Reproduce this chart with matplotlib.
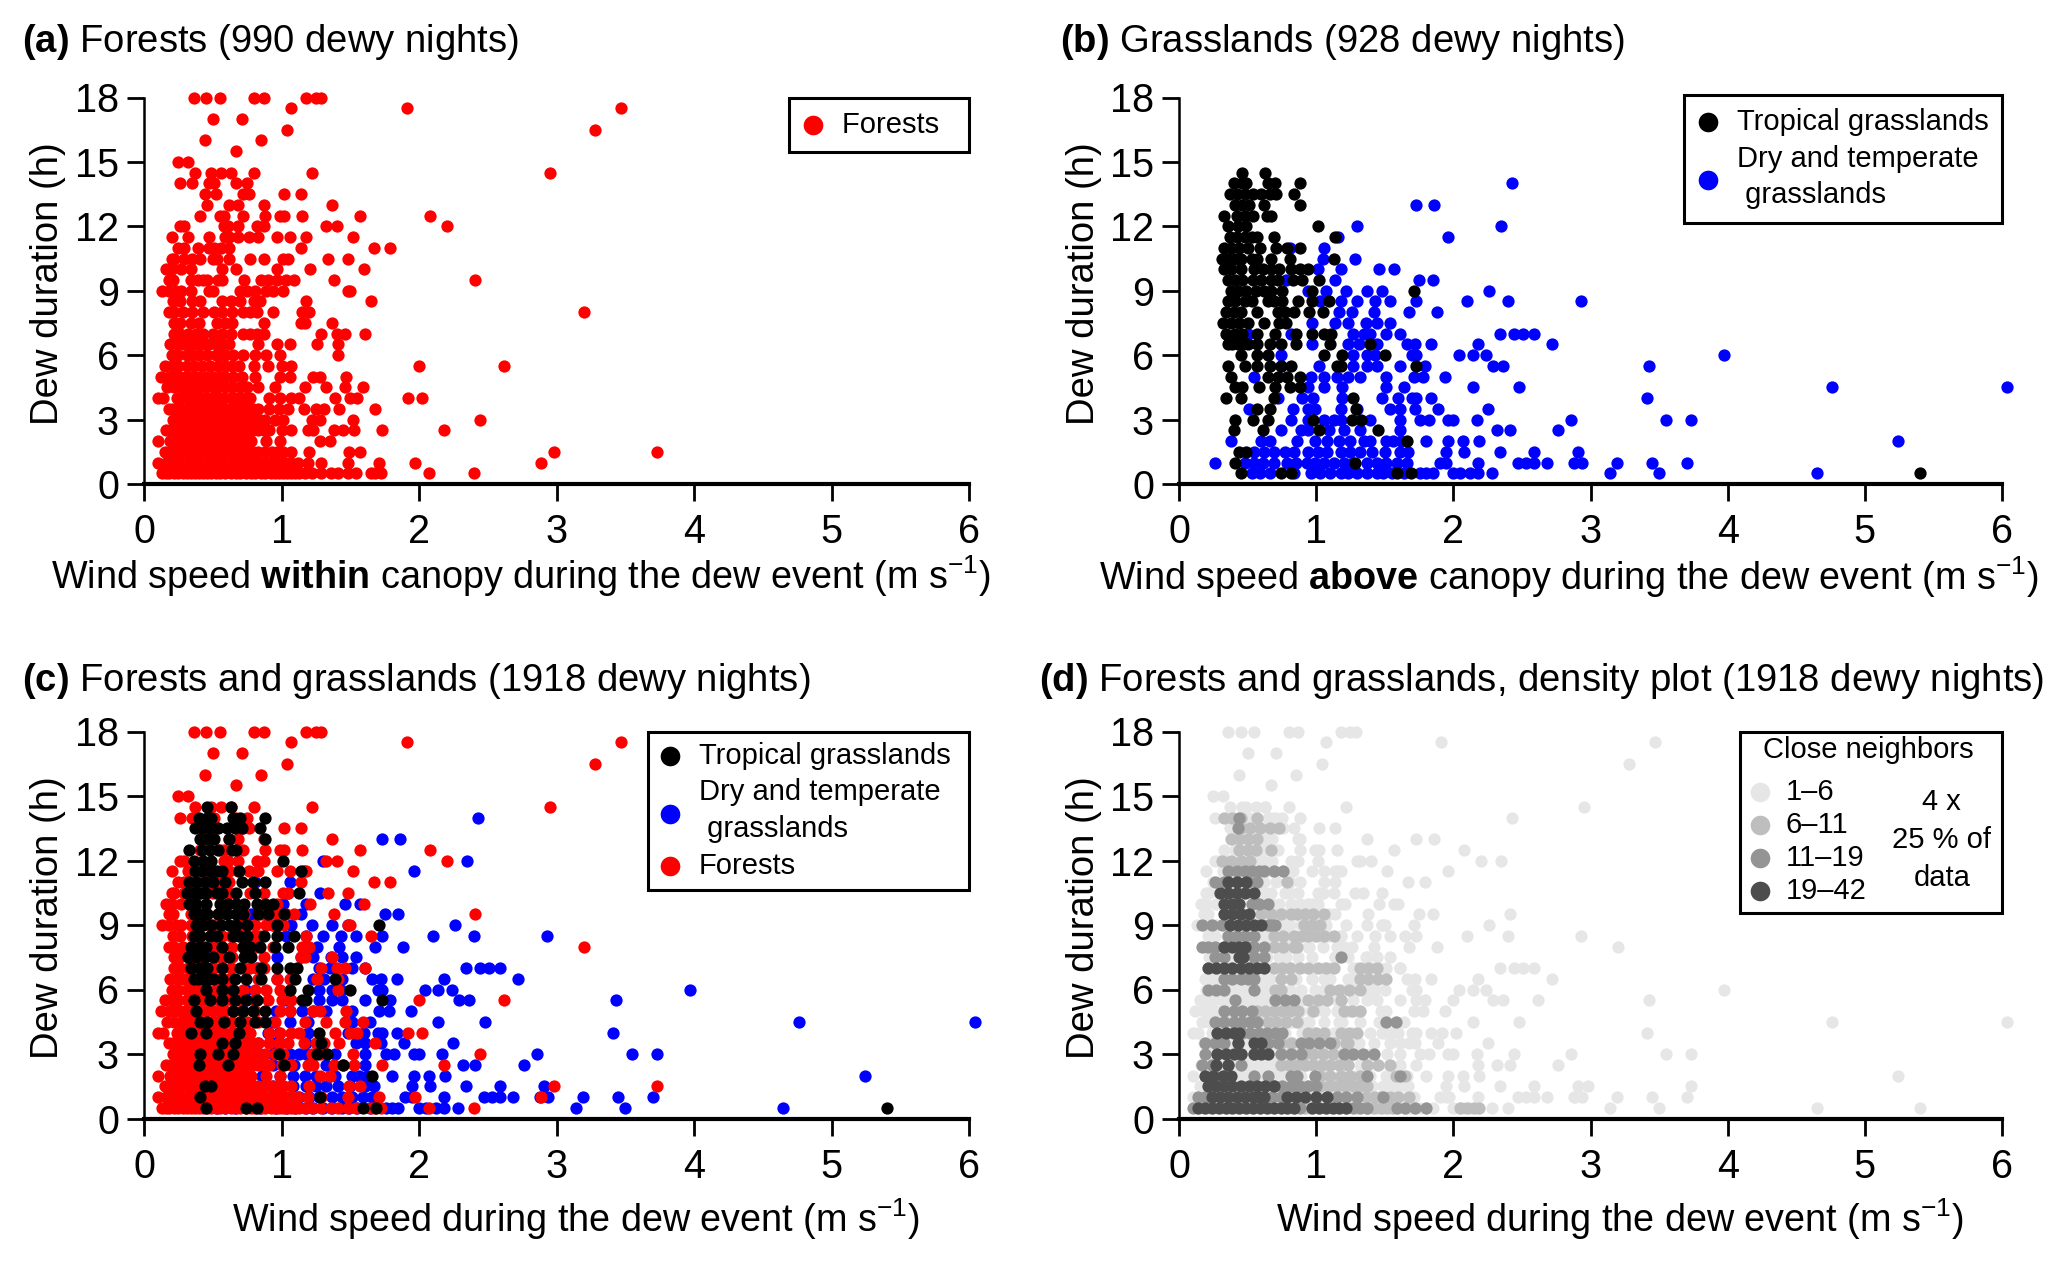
import matplotlib
matplotlib.use('Agg')
import matplotlib.pyplot as plt
from matplotlib.patches import Rectangle

plt.rcParams['font.family'] = ['Liberation Sans', 'DejaVu Sans']
plt.rcParams['mathtext.fontset'] = 'custom'
plt.rcParams['mathtext.rm'] = 'Liberation Sans'
plt.rcParams['mathtext.bf'] = 'Liberation Sans:bold'
plt.rcParams['mathtext.default'] = 'regular'

forest_rows = [
    (0.5, [.13, .18, .22, .28, .34, .40, .46, .52, .59, .67, .74, .81, .88, .95, 1.01, 1.07, 1.13, 1.22, 1.29, 1.36, 1.41, 1.48, 1.54, 1.65, 1.68, 1.72, 2.07, 2.40]),
    (1, [.10, .16, .23, .31, .38, .45, .52, .59, .67, .74, .82, .90, .96, 1.03, 1.12, 1.19, 1.29, 1.48, 1.71, 1.97, 2.89]),
    (1.5, [.15, .23, .31, .38, .45, .52, .59, .67, .75, .83, .93, 1.01, 1.07, 1.20, 1.49, 1.57, 2.98, 3.73]),
    (2, [.10, .19, .26, .33, .40, .48, .55, .62, .70, .78, .89, .99, 1.28, 1.35]),
    (2.5, [.16, .23, .31, .38, .45, .52, .59, .67, .75, .83, .91, 1.0, 1.07, 1.19, 1.23, 1.38, 1.45, 1.53, 1.73, 2.18]),
    (3, [.21, .28, .36, .43, .50, .57, .64, .72, .80, .88, .95, 1.01, 1.22, 1.28, 1.52, 2.44]),
    (3.5, [.18, .24, .31, .38, .45, .52, .59, .67, .75, .83, .91, .98, 1.05, 1.16, 1.25, 1.31, 1.42, 1.68]),
    (4, [.10, .14, .24, .31, .38, .46, .54, .63, .70, .77, .91, .99, 1.07, 1.13, 1.39, 1.50, 1.55, 1.92, 2.02]),
    (4.5, [.17, .22, .27, .30, .33, .36, .40, .45, .50, .54, .59, .64, .70, .75, .83, .95, 1.17, 1.32, 1.46, 1.59]),
    (5, [.12, .18, .22, .26, .30, .33, .36, .40, .45, .50, .55, .59, .65, .71, .81, .99, 1.06, 1.23, 1.28, 1.47]),
    (5.5, [.15, .20, .25, .31, .36, .42, .48, .54, .59, .64, .69, .80, .90, 1.00, 1.07, 2.00, 2.62]),
    (6, [.20, .25, .31, .35, .40, .46, .52, .56, .59, .65, .72, .81, .89, .99, 1.41]),
    (6.5, [.19, .24, .28, .32, .36, .40, .43, .47, .52, .57, .62, .83, .97, 1.06, 1.26, 1.41]),
    (7, [.22, .26, .32, .38, .43, .50, .57, .63, .72, .77, .82, .87, 1.29, 1.40, 1.46, 1.61]),
    (7.5, [.22, .26, .34, .40, .53, .59, .64, .87, 1.14, 1.17, 1.37]),
    (8, [.18, .22, .28, .35, .43, .51, .57, .64, .72, .77, .82, .94, 1.15, 1.20, 3.20]),
    (8.5, [.21, .26, .35, .41, .57, .63, .70, .80, .84, 1.18, 1.65]),
    (9, [.13, .18, .23, .27, .34, .47, .50, .70, .75, .81, .89, .94, 1.01, 1.48, 1.50]),
    (9.5, [.18, .21, .34, .39, .43, .46, .54, .57, .73, .85, .90, .97, 1.03, 1.09, 1.38, 2.41]),
    (10, [.16, .20, .27, .34, .57, .67, .97, 1.21, 1.60]),
    (10.5, [.20, .22, .29, .35, .41, .50, .53, .62, .77, .87, 1.01, 1.05, 1.34, 1.48]),
    (11, [.25, .29, .39, .47, .51, .56, .62, 1.14, 1.67, 1.79]),
    (11.5, [.20, .32, .47, .59, .62, .68, .76, .83, .97, 1.06, 1.18, 1.52]),
    (12, [.26, .29, .58, .61, .68, .82, .87, 1.32, 1.40, 2.20]),
    (12.5, [.41, .55, .58, .72, .88, .99, 1.02, 1.15, 1.57, 2.08]),
    (13, [.46, .62, .68, .87, 1.37]),
    (13.5, [.44, .52, .72, .76, 1.02, 1.14]),
    (14, [.26, .35, .47, .51, .67, .75]),
    (14.5, [.37, .49, .56, .63, .80, 1.22, 2.95]),
    (15, [.25, .32]),
    (15.5, [.67]),
    (16, [.44, .85]),
    (16.5, [1.04, 3.28]),
    (17, [.50, .71]),
    (17.5, [1.07, 1.91, 3.47]),
    (18, [.36, .45, .55, .80, .87, 1.18, 1.25, 1.29]),
]

# the solid lower left part of the forest cloud
forest_dense_rows = [
    (0.5, [.16, .25, .31, .37, .43, .49, .55, .63, .70, .78, .85, .92, .98, 1.04, 1.10, 1.17]),
    (1, [.20, .27, .34, .41, .48, .55, .63, .70, .78, .86, .93, 1.0, 1.07]),
    (1.5, [.19, .27, .34, .41, .48, .55, .63, .71, .79, .88, .97]),
    (2, [.22, .29, .36, .44, .51, .58, .66, .74]),
    (2.5, [.19, .27, .34, .41, .48, .55, .63, .71, .79, .87]),
    (3, [.24, .32, .39, .46, .53, .60, .68, .76, .84]),
    (3.5, [.21, .27, .34, .41, .48, .55, .63, .71, .79]),
    (4, [.27, .34, .42, .50, .58, .66, .74]),
]

tropical_rows = [
    (0.5, [.45, .74, .82, 1.59, 1.69, 5.40]),
    (1, [.41, 1.28]),
    (1.5, [.44, .49]),
    (2, [1.66]),
    (2.5, [.40, .61, 1.02, 1.45]),
    (3, [.41, .54, .65, .98, 1.26, 1.33]),
    (3.5, [.57, .66, 1.29]),
    (4, [.34, .45, .69, 1.27]),
    (4.5, [.41, .46, .58, .70, .81, .88]),
    (5, [.38, .65, .72, .79, .88]),
    (5.5, [.36, .48, .57, .66, .74, .82, 1.15, 1.18, 1.73]),
    (6, [.45, .57, .65, 1.06, 1.19, 1.50]),
    (6.5, [.36, .39, .43, .47, .50, .57, .66, .74, .85, 1.10, 1.39]),
    (7, [.34, .41, .46, .57, .70, .85, .97, 1.06, 1.11]),
    (7.5, [.32, .38, .44, .50, .62, .73, .78]),
    (8, [.34, .40, .45, .57, .72, .77, .84, .95, 1.05]),
    (8.5, [.36, .41, .48, .53, .65, .69, .75, .87, .97, 1.09]),
    (9, [.38, .43, .49, .56, .62, .67, .75, .97, 1.71]),
    (9.5, [.36, .41, .46, .54, .60, .67, .72, .83, .90, 1.02]),
    (10, [.33, .38, .45, .55, .61, .67, .73, .82, .88, .94]),
    (10.5, [.31, .36, .41, .45, .53, .57, .67, .81, 1.13]),
    (11, [.33, .38, .44, .50, .59, .71, .79, .88]),
    (11.5, [.37, .42, .48, .53, .57, .69, 1.14]),
    (12, [.36, .43, .49, 1.01]),
    (12.5, [.33, .42, .48, .54, .64, .67]),
    (13, [.41, .46, .51, .62, .88]),
    (13.5, [.37, .42, .48, .54, .60, .66, .71, .84]),
    (14, [.40, .46, .49, .65, .70, .88]),
    (14.5, [.46, .63]),
]

dry_rows = [
    (0.5, [.53, .59, .66, .84, .96, 1.03, 1.10, 1.18, 1.23, 1.30, 1.37, 1.44, 1.49, 1.55, 1.64, 1.76, 1.80, 1.85, 2.00, 2.05, 2.12, 2.18, 2.28, 3.14, 3.50, 4.65]),
    (1, [.26, .48, .55, .61, .69, .79, .85, .93, .99, 1.06, 1.13, 1.20, 1.27, 1.37, 1.44, 1.51, 1.59, 1.66, 1.90, 1.95, 2.18, 2.47, 2.53, 2.59, 2.68, 2.88, 2.94, 3.19, 3.45, 3.70]),
    (1.5, [.55, .62, .69, .77, .84, .94, 1.01, 1.08, 1.18, 1.25, 1.32, 1.41, 1.50, 1.61, 1.67, 1.95, 2.08, 2.34, 2.59, 2.91]),
    (2, [.38, .60, .66, .86, .99, 1.08, 1.17, 1.25, 1.35, 1.39, 1.51, 1.56, 1.62, 1.80, 1.96, 2.07, 2.19, 5.24]),
    (2.5, [.74, .89, .94, 1.09, 1.20, 1.32, 1.61, 2.32, 2.41, 2.76]),
    (3, [.82, .94, 1.06, 1.13, 1.18, 1.39, 1.61, 1.76, 1.82, 1.96, 2.0, 2.17, 2.86, 3.55, 3.73]),
    (3.5, [.51, .83, .94, .99, 1.18, 1.30, 1.54, 1.61, 1.72, 1.89, 2.25]),
    (4, [.72, .90, .98, 1.19, 1.48, 1.60, 1.70, 1.73, 1.84, 3.41]),
    (4.5, [.94, 1.06, 1.19, 1.51, 1.64, 2.14, 2.48, 4.76, 6.04]),
    (5, [.55, .96, 1.06, 1.15, 1.23, 1.32, 1.51, 1.71, 1.78, 1.94]),
    (5.5, [.74, 1.02, 1.27, 1.37, 1.44, 1.61, 1.79, 2.29, 2.36, 3.43]),
    (6, [.74, 1.27, 1.37, 1.43, 1.70, 1.73, 2.04, 2.14, 2.24, 3.97]),
    (6.5, [.97, 1.23, 1.31, 1.44, 1.66, 1.72, 1.84, 2.18, 2.72]),
    (7, [.50, .82, 1.27, 1.35, 1.39, 1.51, 1.61, 2.34, 2.44, 2.51, 2.59]),
    (7.5, [.97, 1.14, 1.23, 1.36, 1.44, 1.54]),
    (8, [1.17, 1.26, 1.42, 1.68, 1.88]),
    (8.5, [1.03, 1.18, 1.30, 1.43, 1.54, 1.73, 2.10, 2.40, 2.93]),
    (9, [.94, 1.07, 1.22, 1.37, 1.48, 2.26]),
    (9.5, [.78, 1.14, 1.75, 1.85]),
    (10, [1.01, 1.18, 1.46, 1.57]),
    (10.5, [1.05, 1.28]),
    (11, [.81, 1.06]),
    (11.5, [1.16, 1.96]),
    (12, [1.30, 2.35]),
    (13, [1.73, 1.86]),
    (14, [2.43]),
]

# darker classes of the density panel
neighbors_6_11 = [
    (0.5, [.92, 1.37, 1.42, 1.47, 1.52, 1.56, 2.05, 2.10, 2.15, 2.19]),
    (1, [1.30, 1.36, 1.42, 1.47, 1.54, 1.60, 1.68]),
    (1.5, [1.03, 1.09, 1.15, 1.21, 1.27, 1.32, 1.37]),
    (2, [1.03, 1.10, 1.18, 1.25, 1.32, 1.58, 1.65]),
    (2.5, [.74, .80, .86, .92, .98, 1.04, 1.10, 1.17, 1.23, 1.37, 1.45, 1.54]),
    (3, [.74, .82, .91, .98, 1.05, 1.12]),
    (3.5, [.74, .82, 1.13, 1.22, 1.23]),
    (4, [.94, 1.00, 1.06, 1.18, 1.24, 1.30]),
    (4.5, [.65, .71, .78, .86]),
    (5, [.57, .63, .69, .75, .81, .87, .98, 1.20, 1.26, 1.32]),
    (5.5, [.94, 1.01, 1.08, 1.18]),
    (6, [.70, .74, 1.10, 1.17, 1.24, 1.32]),
    (6.5, [.74, .82, 1.32, 1.38, 1.45, 1.51]),
    (7, [.69, .75, .81, .88, .94, 1.01, 1.07, 1.13, 1.32, 1.38, 1.44]),
    (8, [.69, .76, .84, .86]),
    (8.5, [.69, .76, .84, .90, .94, 1.00, 1.06, 1.13]),
    (9, [.91, .97, 1.03]),
    (9.5, [.60, .67, .74, .82, .86, .92, .98, 1.06]),
    (11, [.79]),
    (12, [.31, .38, .45, .52]),
    (12.5, [.44, .50, .56, .67]),
    (13, [.38, .44, .50, .57]),
    (13.5, [.45, .52, .59, .66, .73]),
    (14, [.33, .39, .45, .57]),
]

neighbors_11_19 = [
    (0.5, [.10, .88, 1.27, 1.32, 1.37, 1.59, 1.65, 1.72, 1.80]),
    (1, [.14, .19, .24, .62, .68, .74, .79, 1.08, 1.15, 1.22, 1.30, 1.49]),
    (1.5, [.69, .75, .82, .88, .94, 1.00]),
    (2, [.26, .33, .55, .65, .82, .86, .99, 1.37, 1.61]),
    (2.5, [.17, .24, .36, .45]),
    (3, [.19, .28, .45, .55, .74, .82, .89, 1.20, 1.27, 1.34, 1.42]),
    (3.5, [.19, .26, .33, .43, .65, .72, .89, .95, 1.02, 1.10]),
    (4, [.40, .46, .52, .58, .64, .70, .75]),
    (4.5, [.26, .33, .40, .46, .52, .57, 1.51, 1.58]),
    (5, [.33, .40, .46, .53]),
    (5.5, [.41, .70, .77, .84]),
    (6, [.21, .27, .33, .55]),
    (6.5, [.33, .39, .45, .50, .55]),
    (7.5, [.26, .33, .55, .62, 1.18]),
    (8, [.17, .21, .26, .33, .50, .55, .62]),
    (8.5, [.36, .42, .48, .55]),
    (9, [.17, .24, .31, .65, .67, .70]),
    (10, [.53, .58, .65]),
    (11, [.26, .33, .50, .57]),
    (11.5, [.36, .42, .48, .53, .58, .62, .69, .76]),
    (13.5, [.43]),
    (14, [.44]),
]

neighbors_19_42 = [
    (0.5, [.14, .19, .24, .29, .34, .39, .44, .49, .54, .59, .64, .69, .74, .79, .84, .97, 1.02, 1.07, 1.12, 1.17, 1.22]),
    (1, [.24, .30, .36, .42, .48, .54, .58, .62, .79, .85, .92, 1.00, 1.08]),
    (1.5, [.21, .27, .33, .39, .45, .51, .57, .63, .69]),
    (2, [.19, .25, .32, .38]),
    (2.5, [.27, .36]),
    (3, [.28, .34, .40, .45, .55, .60, .65]),
    (3.5, [.43, .55, .60]),
    (4, [.28, .34, .40, .44]),
    (7, [.21, .27, .33, .39, .45, .51, .57, .62]),
    (7.5, [.44, .47]),
    (8, [.33, .39, .44, .48]),
    (9, [.37, .43, .49, .55, .60]),
    (9.5, [.33, .39, .45, .51]),
    (10, [.33, .39, .44]),
    (10.5, [.30, .36, .42, .48, .55]),
    (11, [.36, .42, .49]),
]

x_ticks = [0, 1, 2, 3, 4, 5, 6]
y_ticks = [0, 3, 6, 9, 12, 15, 18]
density_labels = ['1\u20136', '6\u201311', '11\u201319', '19\u201342']
density_colors = ['#e6e6e6', '#bebebe', '#949494', '#4d4d4d']

W, H = 2067, 1262
FS = 27.5
LEG_FS = 21


def unpack(rows):
    xs, ys = [], []
    for y, vals in rows:
        xs += vals
        ys += [y] * len(vals)
    return xs, ys


def points(ax, rows, color, label=None):
    xs, ys = unpack(rows)
    return ax.scatter(xs, ys, s=78, c=color, linewidths=0, clip_on=False, label=label, zorder=3)


def setup(ax, left, right, top, bottom, xlabel, xlabel_cx, xlabel_y, title, title_x, title_y):
    ax.set_position([left / W, 1 - bottom / H, (right - left) / W, (bottom - top) / H])
    ax.set_xlim(0, 6)
    ax.set_ylim(0, 18)
    ax.set_xticks(x_ticks)
    ax.set_yticks(y_ticks)
    ax.tick_params(length=12, width=2, labelsize=28.5)
    ax.tick_params(axis='x', pad=9)
    ax.tick_params(axis='y', pad=6)
    ax.spines['top'].set_visible(False)
    ax.spines['right'].set_visible(False)
    ax.spines['left'].set_linewidth(1.8)
    ax.spines['bottom'].set_linewidth(3)
    ax.set_ylabel('Dew duration (h)', fontsize=FS)
    ax.yaxis.set_label_coords(-0.094, 0.519)
    fig.text(xlabel_cx / W, 1 - xlabel_y / H, xlabel, fontsize=27.2, ha='center', va='center')
    fig.text(title_x / W, 1 - title_y / H, title, fontsize=FS, ha='left', va='center')


def box_legend(ax, handles, labels, anchor=(1, 1), pad=0.35):
    leg = ax.legend(handles, labels, loc='upper right', bbox_to_anchor=anchor, borderaxespad=0,
                    fontsize=LEG_FS, fancybox=False, framealpha=1, edgecolor='black', handletextpad=0.62,
                    labelspacing=0.3, borderpad=pad, handlelength=0.76, markerscale=1.6)
    leg.get_frame().set_linewidth(2.2)
    for t in leg.get_texts():
        t.set_linespacing(1.4)
    return leg


fig = plt.figure(figsize=(W / 100, H / 100), dpi=100)
ax_a = fig.add_axes([0, 0, 1, 1])
ax_b = fig.add_axes([0, 0, 1, 1])
ax_c = fig.add_axes([0, 0, 1, 1])
ax_d = fig.add_axes([0, 0, 1, 1])

setup(ax_a, 144, 969, 97.5, 484, r'Wind speed $\mathbf{within}$ canopy during the dew event (m s$^{-1}$)', 520.5, 576,
      r'$\mathbf{(a)}$ Forests (990 dewy nights)', 22, 42)
setup(ax_b, 1179, 2002, 97.5, 484, r'Wind speed $\mathbf{above}$ canopy during the dew event (m s$^{-1}$)', 1569, 577,
      r'$\mathbf{(b)}$ Grasslands (928 dewy nights)', 1060, 42)
setup(ax_c, 144, 969, 731.5, 1118.5, r'Wind speed during the dew event (m s$^{-1}$)', 576, 1219,
      r'$\mathbf{(c)}$ Forests and grasslands (1918 dewy nights)', 22, 681)
setup(ax_d, 1179, 2002, 731.5, 1118.5, r'Wind speed during the dew event (m s$^{-1}$)', 1620, 1219,
      r'$\mathbf{(d)}$ Forests and grasslands, density plot (1918 dewy nights)', 1039, 681)

all_forest = forest_rows + forest_dense_rows

# (a)
h_forest = points(ax_a, all_forest, 'red')
box_legend(ax_a, [h_forest], ['Forests  '], pad=0.45)

# (b)
h_dry = points(ax_b, dry_rows, 'blue')
h_trop = points(ax_b, tropical_rows, 'black')
box_legend(ax_b, [h_trop, h_dry], ['Tropical grasslands', 'Dry and temperate\n grasslands'], anchor=(1, 1.007), pad=0.45)

# (c)
h_dry = points(ax_c, dry_rows, 'blue')
h_forest = points(ax_c, all_forest, 'red')
h_trop = points(ax_c, tropical_rows, 'black')
box_legend(ax_c, [h_trop, h_dry, h_forest],
           ['Tropical grasslands ', 'Dry and temperate\n grasslands', 'Forests'])

# (d)
base_rows = all_forest + dry_rows + tropical_rows
h1 = points(ax_d, base_rows, density_colors[0])
h2 = points(ax_d, neighbors_6_11, density_colors[1])
h3 = points(ax_d, neighbors_11_19, density_colors[2])
h4 = points(ax_d, neighbors_19_42, density_colors[3])
ax_d.add_patch(Rectangle((0.682, 0.532), 0.318, 0.468, transform=ax_d.transAxes, fc='white', ec='black', lw=2.2,
                         zorder=4, clip_on=False))
leg = ax_d.legend([h1, h2, h3, h4], density_labels, loc='upper left', bbox_to_anchor=(0.682, 0.903), borderaxespad=0,
                  fontsize=LEG_FS, frameon=False, handletextpad=0.5, labelspacing=0.17, borderpad=0.3,
                  handlelength=0.76, markerscale=1.6)
leg.set_zorder(5)
ax_d.text(0.838, 0.952, 'Close neighbors', transform=ax_d.transAxes, fontsize=LEG_FS, ha='center', va='center', zorder=5)
ax_d.text(0.927, 0.72, '4 x\n25 % of\ndata', transform=ax_d.transAxes, fontsize=LEG_FS, ha='center', va='center',
          linespacing=1.45, zorder=5)

fig.savefig('out.png', dpi=100, facecolor='white')
